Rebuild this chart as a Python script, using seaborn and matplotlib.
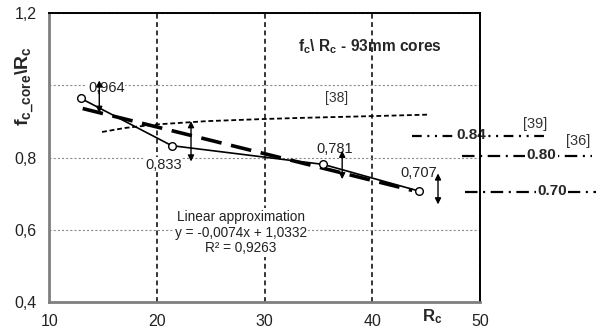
import numpy as np
import pandas as pd
import seaborn as sns
import matplotlib.pyplot as plt
from matplotlib.ticker import MultipleLocator, FuncFormatter

# measured cores: Rc vs fc_core/Rc
rc = [12.94, 21.37, 35.44, 44.33]
ratio = [0.964, 0.833, 0.781, 0.707]
ratio_labels = ["0,964", "0,833", "0,781", "0,707"]

# linear approximation y = -0.0074x + 1.0332 (end points)
fit_x = [13.1, 43.7]
fit_y = [0.936, 0.709]

# curve from [38]
ref38_x = [14.9, 17.0, 20.0, 24.6, 30.0, 33.3, 40.0, 45.1]
ref38_y = [0.871, 0.882, 0.892, 0.901, 0.907, 0.910, 0.915, 0.919]

# scatter ranges shown as double arrows
arrow_x = [14.64, 23.16, 37.2, 46.1]
arrow_lo = [0.924, 0.789, 0.740, 0.670]
arrow_hi = [1.014, 0.901, 0.819, 0.756]

# code levels outside the plot
level_names = ["0.84", "0.80", "0.70"]
level_refs = ["[39]", "[36]", ""]

sns.set_style("white")
plt.rcParams["font.family"] = ["Liberation Sans", "DejaVu Sans"]
plt.rcParams["mathtext.fontset"] = "custom"
plt.rcParams["mathtext.rm"] = "Liberation Sans"
plt.rcParams["mathtext.it"] = "Liberation Sans:italic"
plt.rcParams["mathtext.bf"] = "Liberation Sans:bold"
plt.rcParams["lines.scale_dashes"] = False

fig, ax = plt.subplots(figsize=(6, 3.35), dpi=100)
fig.subplots_adjust(left=0.0822, right=0.8, bottom=0.0994, top=0.960)

df = pd.DataFrame({"Rc": rc, "ratio": ratio})
sns.lineplot(data=df, x="Rc", y="ratio", color="black", lw=1.2, marker="o",
             markersize=5.5, markerfacecolor="white", markeredgecolor="black",
             markeredgewidth=1, ax=ax, zorder=5)
sns.lineplot(x=fit_x, y=fit_y, color="black", lw=2.6, linestyle=(0, (15, 7)),
             ax=ax, zorder=4)
sns.lineplot(x=ref38_x, y=ref38_y, color="black", lw=1.3, linestyle=(0, (3.5, 2)),
             sort=False, ax=ax, zorder=4)

for x, lo, hi in zip(arrow_x, arrow_lo, arrow_hi):
    ax.annotate("", xy=(x, hi), xytext=(x, lo),
                arrowprops=dict(arrowstyle="<|-|>", color="black", lw=1,
                                mutation_scale=9, shrinkA=0, shrinkB=0),
                zorder=6)

# value labels
label_pos = [(15.3, 0.993), (20.6, 0.780), (36.5, 0.823), (44.3, 0.756)]
for (lx, ly), txt in zip(label_pos, ratio_labels):
    ax.text(lx, ly, txt, ha="center", va="center", fontsize=10.5, color="#222222",
            bbox=dict(fc="white", ec="none", pad=0.5), zorder=3)

ax.text(27.8, 0.592, "Linear approximation\ny = -0,0074x + 1,0332\nR² = 0,9263",
        ha="center", va="center", fontsize=9.8, color="#222222", linespacing=1.15,
        bbox=dict(fc="white", ec="none", pad=1), zorder=3)
ax.text(33.1, 1.107, r"$\mathbf{f_c}$\ $\mathbf{R_c}$ - 93mm cores",
        ha="left", va="center", fontsize=11.2, fontweight="bold")
ax.text(36.7, 0.966, "[38]", ha="center", va="center", fontsize=10, color="#333333")

# levels on the right, partly outside the axes
level_y = [0.859, 0.804, 0.704]
level_x0 = [43.7, 48.3, 48.6]
level_x1 = [56.0, 60.4, 60.8]
level_tx = [49.2, 55.7, 56.7]
level_dash = [(0, (7, 4, 1.5, 4, 1.5, 4)), (0, (9, 4, 1.5, 4)), (0, (9, 4, 1.5, 4))]
ref_pos = [(55.1, 0.894), (59.1, 0.845), None]
for y, x0, x1, tx, ls, name, ref, rp in zip(level_y, level_x0, level_x1, level_tx,
                                             level_dash, level_names, level_refs, ref_pos):
    ax.plot([x0, x1], [y, y], color="black", lw=1.6, linestyle=ls, clip_on=False, zorder=1.5)
    ax.text(tx, y + 0.004, name, ha="center", va="center", fontsize=11, fontweight="bold",
            bbox=dict(fc="white", ec="none", pad=1), zorder=2)
    if rp is not None:
        ax.text(rp[0], rp[1], ref, ha="center", va="center", fontsize=10.5, color="#333333")

ax.set_xlim(10, 50)
ax.set_ylim(0.4, 1.2)
ax.xaxis.set_major_locator(MultipleLocator(10))
ax.xaxis.set_minor_locator(MultipleLocator(5))
ax.yaxis.set_major_locator(MultipleLocator(0.2))
ax.yaxis.set_minor_locator(MultipleLocator(0.1))
# the 1,0 label is left out in the original, the axis title sits there
ax.yaxis.set_major_formatter(FuncFormatter(
    lambda v, p: "" if abs(v - 1.0) < 1e-6 else f"{v:.1f}".replace(".", ",")))
ax.xaxis.set_major_formatter(FuncFormatter(lambda v, p: f"{v:.0f}"))

ax.set_axisbelow(True)
ax.grid(axis="x", which="major", color="black", lw=1.1, linestyle=(0, (3.5, 2.5)))
ax.grid(axis="y", which="major", color="#888888", lw=0.8, linestyle=(0, (1.5, 1.5)))

ax.tick_params(axis="both", which="major", length=3, width=1, color="#999999",
               labelsize=11.5, labelcolor="#222222", pad=6)
ax.tick_params(axis="both", which="minor", length=2, width=1, color="#bbbbbb")

for side in ["left", "bottom"]:
    ax.spines[side].set_color("#7f7f7f")
    ax.spines[side].set_linewidth(2)
for side in ["top", "right"]:
    ax.spines[side].set_color("black")
    ax.spines[side].set_linewidth(1.4)

ax.set_ylabel(r"$\mathbf{f_{c\_core}\backslash R_c}$", fontsize=14)
ax.yaxis.set_label_coords(-0.055, 0.748)
ax.yaxis.label.set_va("center")
ax.set_xlabel(r"$\mathbf{R_c}$", fontsize=12)
ax.xaxis.set_label_coords(0.888, -0.052)
ax.xaxis.label.set_va("center")

fig.savefig("out.png", dpi=100)
